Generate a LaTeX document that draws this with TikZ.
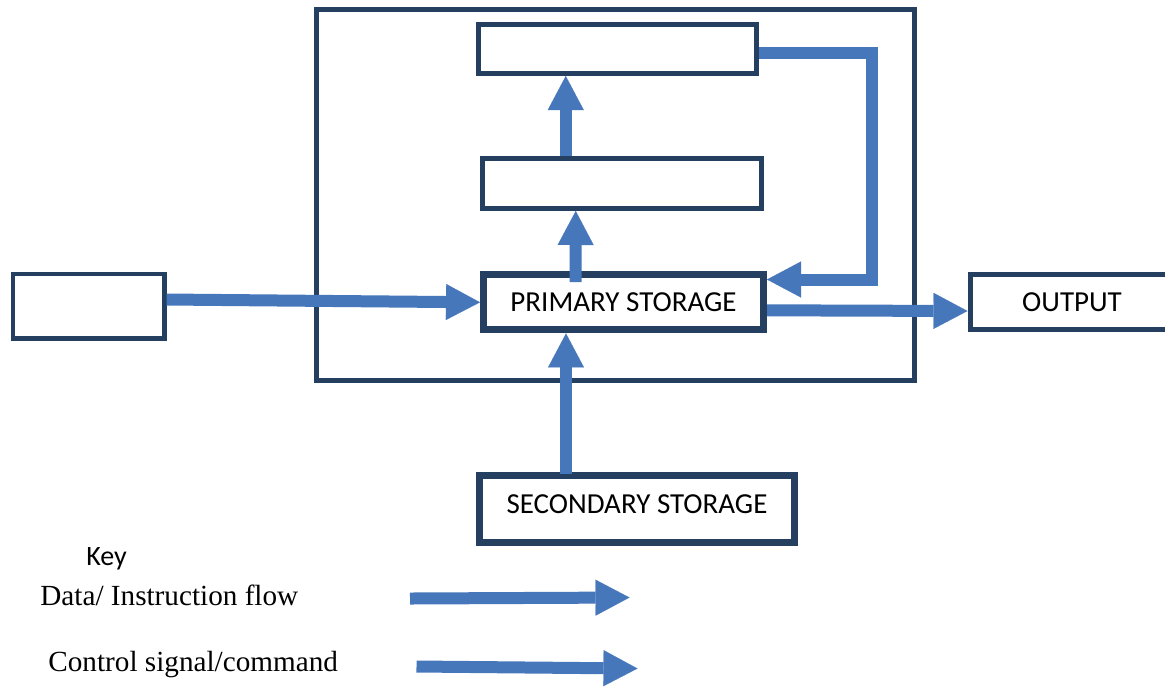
\documentclass[tikz,border=0pt]{standalone}
\usepackage{fontspec}
\setmainfont{Liberation Serif}
\newfontfamily\calibri{Carlito}
\usetikzlibrary{arrows.meta}
\definecolor{boxline}{HTML}{243F60}
\definecolor{flowblue}{HTML}{4677BA}

\begin{document}
\begin{tikzpicture}[x=0.5pt, y=-0.5pt,
  unit/.style={draw=boxline, line width=2.5pt, fill=white, inner sep=0pt,
    font=\calibri\fontsize{14.5}{17}\selectfont},
  mainunit/.style={unit, line width=3.5pt},
  flow/.style={draw=flowblue, line width=6pt,
    -{Triangle[length=17pt, width=18pt, line width=0.1pt]}},
  keytext/.style={anchor=base west, inner sep=0pt, font=\fontsize{14.6}{18}\selectfont}]
\useasboundingbox (0,0) rectangle (1165,687);
% processor frame and its two inner units
\node[unit, minimum width=299pt, minimum height=185.5pt] (cpu) at (615.5,195) {};
\node[unit, minimum width=139.25pt, minimum height=24.5pt] (topbox) at (617.25,49) {};
\node[unit, minimum width=139.25pt, minimum height=25.25pt] (midbox) at (621.75,183.25) {};
\node[mainunit, minimum width=140pt, minimum height=27.65pt] (prim) at (623.5,302.3) {PRIMARY STORAGE};
% outside units
\node[unit, line width=2.3pt, minimum width=75.65pt, minimum height=32.35pt] (input) at (88.7,306.3) {};
\node[unit, minimum width=102pt, minimum height=27.8pt] (out) at (1072,302) {OUTPUT};
\node[mainunit, minimum width=157.5pt, minimum height=33.5pt, text depth=5pt] (sec) at (637,509) {SECONDARY STORAGE};
% flows
\coordinate (bend) at (872,160);
\draw[flow] ([yshift=3.4pt]input.east) -- (prim.west);
\draw[flow] ([shift={(-24pt,-5.5pt)}]prim.north) -- ([xshift=-23pt]midbox.south);
\draw[flow] ([xshift=-28pt]midbox.north) -- ([xshift=-28pt]midbox.north |- topbox.south);
\draw[flow] ([yshift=-1.8pt]topbox.east) -| (bend) |- ([yshift=11.4pt]prim.east);
\draw[flow] ([yshift=-4pt]prim.east) -- ([yshift=-4.5pt]out.west);
\draw[flow] ([shift={(-35.5pt,-1.2pt)}]sec.north) -- ([xshift=-35.5pt]sec.north |- prim.south);
% key
\node[keytext, font=\calibri\fontsize{14}{16}\selectfont] (key) at (86,565) {Key};
\node[keytext] (datakey) at (40,605) {Data/ Instruction flow};
\node[keytext] (ctrlkey) at (48,671.7) {Control signal/command};
\coordinate (k1a) at (410,598.5);
\coordinate (k1b) at (629.5,597.5);
\coordinate (k2a) at (416.5,666.5);
\coordinate (k2b) at (637.5,668.5);
\draw[flow] (k1a) -- (k1b);
\draw[flow] (k2a) -- (k2b);
\end{tikzpicture}
\end{document}
